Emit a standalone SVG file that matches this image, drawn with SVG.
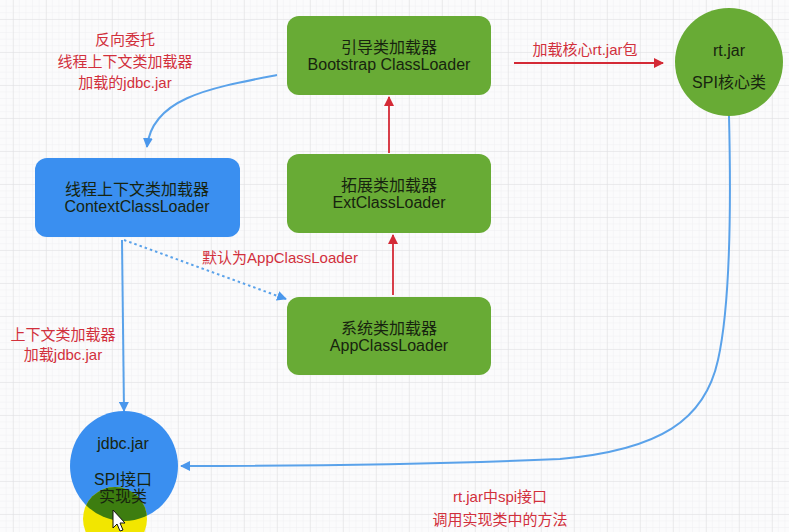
<svg xmlns="http://www.w3.org/2000/svg" width="789" height="532" viewBox="0 0 789 532">
<defs>
<pattern id="minor" x="0" y="0" width="6.6" height="6.6" patternUnits="userSpaceOnUse"><path d="M6.6 0V6.6H0" fill="none" stroke="#f0f0f2" stroke-width="1"/></pattern>
<pattern id="major" x="13" y="19" width="33" height="33" patternUnits="userSpaceOnUse"><path d="M0 0V33M0 0H33" fill="none" stroke="#e0e0e2" stroke-width="1"/></pattern>
<marker id="ar" viewBox="0 0 10 10" refX="9" refY="5" markerWidth="11" markerHeight="10" orient="auto" markerUnits="userSpaceOnUse"><path d="M0 0L10 5L0 10z" fill="#d42a36"/></marker>
<marker id="ab" viewBox="0 0 10 10" refX="9" refY="5" markerWidth="10" markerHeight="10" orient="auto" markerUnits="userSpaceOnUse"><path d="M0 0L10 5L0 10z" fill="#4a97ec"/></marker>
<clipPath id="ec"><ellipse cx="124" cy="466" rx="54" ry="55"/></clipPath>
<style>
.g{fill:#68ab35}
.b{fill:#3a8ff0}
.t{font-family:"Liberation Sans","Noto Sans CJK SC",sans-serif;font-size:16px;fill:#17240f;text-anchor:middle}
.r{font-family:"Liberation Sans","Noto Sans CJK SC",sans-serif;font-size:15px;fill:#d2303c;text-anchor:middle}
.rl{stroke:#d42a36;stroke-width:1.8;fill:none}
.bl{stroke:#5aa2ea;stroke-width:2;fill:none}
</style>
</defs>
<rect width="789" height="532" fill="#fbfbfc"/>
<rect width="789" height="532" fill="url(#minor)"/>
<rect width="789" height="532" fill="url(#major)"/>

<g id="connectors">
<path class="bl" d="M277 75C210 88 152 98 147 147" marker-end="url(#ab)"/>
<path class="rl" d="M389 153V97" marker-end="url(#ar)"/>
<path class="rl" d="M393 295V235" marker-end="url(#ar)"/>
<path class="rl" d="M514 63H663" marker-end="url(#ar)"/>
<path class="bl" d="M124 240L286 299" stroke-dasharray="2.5 3" marker-end="url(#ab)"/>
<path class="bl" d="M122 240L124 411" marker-end="url(#ab)"/>
<path class="bl" d="M729 116C732 240 727 320 718 360C705 420 660 450 560 459Q400 466 181 466" marker-end="url(#ab)"/>
</g>

<g id="label-reverse">
<text class="r" x="125" y="45">反向委托</text>
<text class="r" x="125" y="67">线程上下文类加载器</text>
<text class="r" x="125" y="88">加载的jdbc.jar</text>
</g>
<g id="label-rtjar"><text class="r" x="585" y="55">加载核心rt.jar包</text></g>
<g id="label-default"><text class="r" x="280" y="263">默认为AppClassLoader</text></g>
<g id="label-context">
<text class="r" x="63" y="340">上下文类加载器</text>
<text class="r" x="63" y="360">加载jdbc.jar</text>
</g>
<g id="label-spi">
<text class="r" x="500" y="502">rt.jar中spi接口</text>
<text class="r" x="500" y="525">调用实现类中的方法</text>
</g>

<g id="bootstrap">
<rect class="g" x="287" y="16" width="204" height="79" rx="12"/>
<text class="t" x="389" y="53">引导类加载器</text>
<text class="t" x="389" y="70">Bootstrap ClassLoader</text>
</g>
<g id="ext">
<rect class="g" x="287" y="154" width="204" height="79" rx="12"/>
<text class="t" x="389" y="191">拓展类加载器</text>
<text class="t" x="389" y="208">ExtClassLoader</text>
</g>
<g id="app">
<rect class="g" x="287" y="297" width="204" height="78" rx="12"/>
<text class="t" x="389" y="334">系统类加载器</text>
<text class="t" x="389" y="351">AppClassLoader</text>
</g>
<g id="context">
<rect class="b" x="35" y="158" width="205" height="79" rx="12"/>
<text class="t" x="137" y="195">线程上下文类加载器</text>
<text class="t" x="137" y="212">ContextClassLoader</text>
</g>
<g id="rtjar">
<circle class="g" cx="729" cy="62" r="54"/>
<text class="t" x="729" y="56">rt.jar</text>
<text class="t" x="729" y="88">SPI核心类</text>
</g>
<g id="jdbc">
<ellipse class="b" cx="124" cy="466" rx="54" ry="55"/>
<circle cx="115" cy="519" r="32" fill="#f2e600"/>
<circle cx="115" cy="519" r="32" fill="#3d7d10" clip-path="url(#ec)"/>
<text class="t" x="123" y="449">jdbc.jar</text>
<text class="t" x="123" y="485">SPI接口</text>
<text class="t" x="123" y="502">实现类</text>
<path d="M113 510L113 528L117 524L120 531L123 530L120 523L125 523Z" fill="#fff" stroke="#111" stroke-width="1"/>
</g>
</svg>
